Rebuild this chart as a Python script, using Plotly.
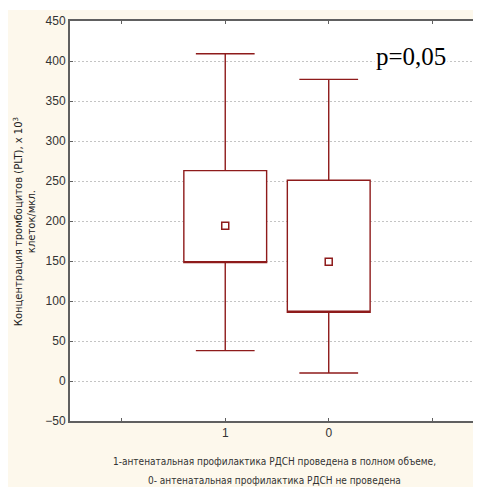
import plotly.graph_objects as go

# Data
groups = ["1", "0"]
whisker_low = [38, 10]
box_low = [148, 86]
box_high = [263, 251]
whisker_high = [409, 377]
means = [194, 149]
y_ticks = [-50, 0, 50, 100, 150, 200, 250, 300, 350, 400, 450]

# page has an 8px body margin; figure sized to fit the window
OFF = 8
W, H = 481 - OFF, 487 - OFF
L, R, T, B = 62, 0, 13, 66
pw, ph = W - L - R, H - T - B

def px_x(page_x):
    return (page_x - OFF - L) / pw

def px_y(page_y):
    return (H - B - (page_y - OFF)) / ph

pos = [1, 2]
red = "#8E1B1B"
axis_col = "#606060"
narrow = "Liberation Sans Narrow, Arial Narrow, Liberation Sans, Arial"
cond = "DejaVu Sans Condensed, Liberation Sans Narrow, Liberation Sans"

fig = go.Figure()
fig.add_trace(go.Box(
    x=pos, q1=box_low, median=box_low, q3=box_high,
    lowerfence=whisker_low, upperfence=whisker_high,
    width=0.8, whiskerwidth=0.71,
    fillcolor="white", line=dict(color=red, width=1.4),
    boxpoints=False, hoverinfo="skip", showlegend=False,
))
fig.add_trace(go.Scatter(
    x=pos, y=means, mode="markers",
    marker=dict(symbol="square-open", size=7, color=red, line=dict(width=1.5, color=red)),
    showlegend=False, hoverinfo="skip",
))

fig.update_layout(
    width=W, height=H,
    margin=dict(l=L, r=R, t=T, b=B),
    paper_bgcolor="#FDF8EC",
    plot_bgcolor="white",
    xaxis=dict(
        range=[-0.5, 3.452], tickmode="array", tickvals=pos,
        ticktext=groups,
        showgrid=False, zeroline=False,
        showline=True, linecolor=axis_col, linewidth=2, mirror="ticks",
        ticks="inside", ticklen=3, tickcolor=axis_col, tickwidth=1,
        minor=dict(ticks="inside", ticklen=3, tick0=0, dtick=1,
                   tickcolor=axis_col, tickwidth=1, showgrid=False),
        tickfont=dict(family=narrow, size=12, color="#333333"),
    ),
    yaxis=dict(
        range=[-50, 450], tickmode="array", tickvals=y_ticks,
        showgrid=True, gridcolor="#C4C4C4", griddash="2px,2px", gridwidth=1,
        zeroline=False,
        showline=True, linecolor=axis_col, linewidth=2, mirror="ticks",
        ticks="inside", ticklen=3, tickcolor=axis_col, tickwidth=1,
        tickfont=dict(family=narrow, size=12, color="#333333"),
    ),
    shapes=[
        dict(type="rect", xref="paper", yref="paper", x0=px_x(0), x1=px_x(W + 20),
             y0=px_y(10), y1=px_y(0), fillcolor="white", line=dict(width=0), layer="below"),
    ],
    annotations=[
        dict(text="p=0,05", xref="paper", yref="paper", x=px_x(413), y=px_y(57),
             xanchor="center", yanchor="middle", showarrow=False, bgcolor="white",
             font=dict(family="Liberation Serif, Times New Roman, serif", size=25, color="black")),
        dict(text="Концентрация тромбоцитов (PLT), x 10<sup>3</sup><br>клеток/мкл.",
             xref="paper", yref="paper", x=px_x(25), y=px_y(222),
             xanchor="center", yanchor="middle", textangle=-90, showarrow=False,
             font=dict(family="DejaVu Sans, Liberation Sans, Arial", size=10, color="#222222")),
        dict(text="1-антенатальная профилактика РДСН проведена в полном объеме,",
             xref="paper", yref="paper", x=px_x(275), y=px_y(461),
             xanchor="center", yanchor="middle", showarrow=False,
             font=dict(family=cond, size=10, color="#333333")),
        dict(text="0- антенатальная профилактика РДСН не проведена",
             xref="paper", yref="paper", x=px_x(275), y=px_y(480),
             xanchor="center", yanchor="middle", showarrow=False,
             font=dict(family=cond, size=10, color="#333333")),
    ],
)

fig.write_html("out.html")
